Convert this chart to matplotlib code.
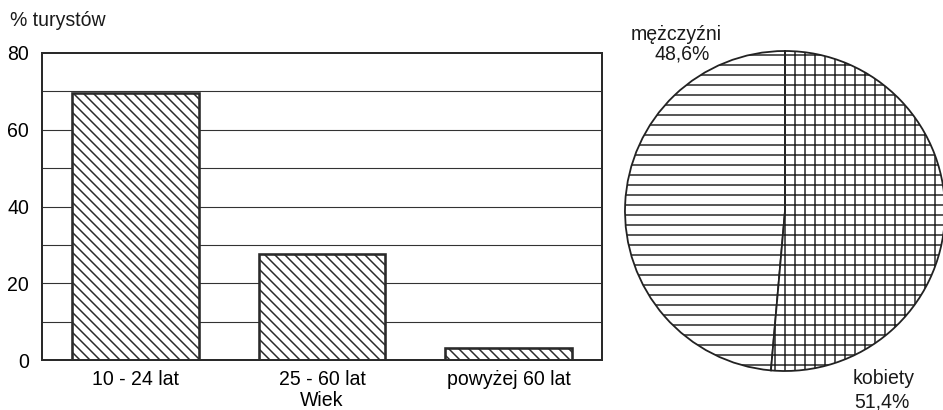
import matplotlib
matplotlib.use("Agg")
import matplotlib.pyplot as plt

# data
groups = ["10 - 24 lat", "25 - 60 lat", "powyżej 60 lat"]
share = [69.5, 27.5, 3.0]
yticks = [0, 20, 40, 60, 80]
grid_vals = [10, 30, 50, 70]

sex = ["mężczyźni", "kobiety"]
sex_share = [48.6, 51.4]
sex_labels = ["48,6%", "51,4%"]

DPI = 60
W, H = 943, 410
pt = 72.0 / DPI  # pixels -> points

plt.rcParams['font.family'] = ['Liberation Sans', 'DejaVu Sans']
plt.rcParams['hatch.linewidth'] = 1.5 * pt
plt.rcParams['text.color'] = '#1a1a1a'

ink = '#222222'
fs = 19.5 * pt

fig = plt.figure(figsize=(W / DPI, H / DPI), dpi=DPI)

# bar chart
ax = fig.add_axes([42 / W, 1 - 360 / H, (602 - 42) / W, (360 - 53) / H])
ax.set_xlim(-0.5, 2.5)
ax.set_ylim(0, 80)
for g in grid_vals + yticks[1:-1]:
    ax.axhline(g, color='#333333', lw=1.1 * pt, zorder=1)
ax.bar(range(len(groups)), share, width=0.68, color='white', edgecolor='#2a2a2a',
       linewidth=2.6 * pt, hatch='\\\\', zorder=2)
ax.set_xticks(range(len(groups)))
ax.set_xticklabels(groups, fontsize=fs)
ax.set_yticks(yticks)
ax.set_yticklabels([str(v) for v in yticks], fontsize=fs)
ax.tick_params(length=0)
ax.tick_params(axis='y', pad=13 * pt)
ax.tick_params(axis='x', pad=10 * pt)
for s in ax.spines.values():
    s.set_linewidth(2.0 * pt)
    s.set_color('#2a2a2a')
ax.set_xlabel("Wiek", fontsize=fs, labelpad=2 * pt)
fig.text(10 / W, 1 - 20 / H, "% turystów", fontsize=fs, va='center', ha='left')

# pie chart
cx, cy, r = 785, 211, 160
pax = fig.add_axes([(cx - r) / W, 1 - (cy + r) / H, 2 * r / W, 2 * r / H])
wedges, _ = pax.pie(sex_share, startangle=90, counterclock=True,
                    colors=['white', 'white'],
                    wedgeprops=dict(edgecolor=ink, linewidth=1.8 * pt))
wedges[0].set_hatch('-')
wedges[1].set_hatch('+')
pax.set_xlim(-1, 1)
pax.set_ylim(-1, 1)
pax.set_axis_off()

fig.text(676 / W, 1 - 34 / H, sex[0], fontsize=fs, ha='center', va='center')
fig.text(682 / W, 1 - 54 / H, sex_labels[0], fontsize=fs, ha='center', va='center')
fig.text(884 / W, 1 - 378 / H, sex[1], fontsize=fs, ha='center', va='center')
fig.text(882 / W, 1 - 402 / H, sex_labels[1], fontsize=fs, ha='center', va='center')

fig.savefig("out.png", dpi=DPI, facecolor='white')
